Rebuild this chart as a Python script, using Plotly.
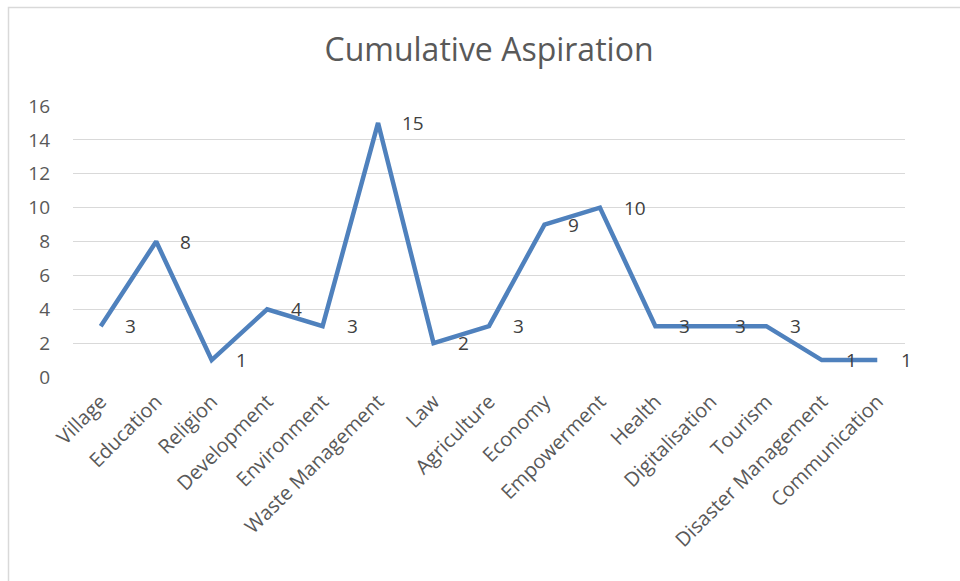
import plotly.graph_objects as go

categories = ["Village", "Education", "Religion", "Development", "Environment",
              "Waste Management", "Law", "Agriculture", "Economy", "Empowerment",
              "Health", "Digitalisation", "Tourism", "Disaster Management", "Communication"]
values = [3, 8, 1, 4, 3, 15, 2, 3, 9, 10, 3, 3, 3, 1, 1]
y_ticks = [0, 2, 4, 6, 8, 10, 12, 14, 16]

W, H = 960, 581
L, R, T, B = 73, 55, 106, 204
pw, ph = W - L - R, H - T - B

fig = go.Figure()
fig.add_trace(go.Scatter(
    x=categories, y=values, mode="lines",
    line=dict(color="#4F81BD", width=4.5),
    hoverinfo="x+y", showlegend=False,
))

for c, v in zip(categories, values):
    fig.add_annotation(x=c, y=v, text=str(v), showarrow=False,
                       xanchor="left", yanchor="middle", xshift=22,
                       font=dict(family="Open Sans", size=19, color="#404040"))

fig.add_shape(type="rect", xref="paper", yref="paper",
              x0=(8.5 - L) / pw, x1=(975 - L) / pw,
              y0=(H - B - 600) / ph, y1=(H - B - 7.5) / ph,
              line=dict(color="#D9D9D9", width=1.5), fillcolor="rgba(0,0,0,0)", layer="below")

fig.update_layout(
    width=W, height=H,
    margin=dict(l=L, r=R, t=T, b=B),
    paper_bgcolor="white", plot_bgcolor="white",
    title=dict(text="Cumulative Aspiration", xref="paper", x=0.5, xanchor="center",
               y=1 - 50 / H, yanchor="middle",
               font=dict(family="Open Sans", size=32, color="#595959")),
    font=dict(family="Open Sans", color="#595959"),
    xaxis=dict(type="category", range=[-0.5, len(categories) - 0.5], tickangle=-45,
               showgrid=False, showline=False, zeroline=False, ticks="", ticklabelstandoff=8,
               tickfont=dict(size=20, color="#595959")),
    yaxis=dict(range=[0, 16], tickvals=y_ticks, showgrid=True, gridcolor="#D9D9D9", gridwidth=1.3,
               zeroline=False, showline=False, ticks="", ticklabelstandoff=22,
               tickfont=dict(size=19, color="#595959")),
)

fig.write_html("out.html", config={"displayModeBar": False},
               post_script="document.body.style.margin='0';document.body.style.overflow='hidden';")
